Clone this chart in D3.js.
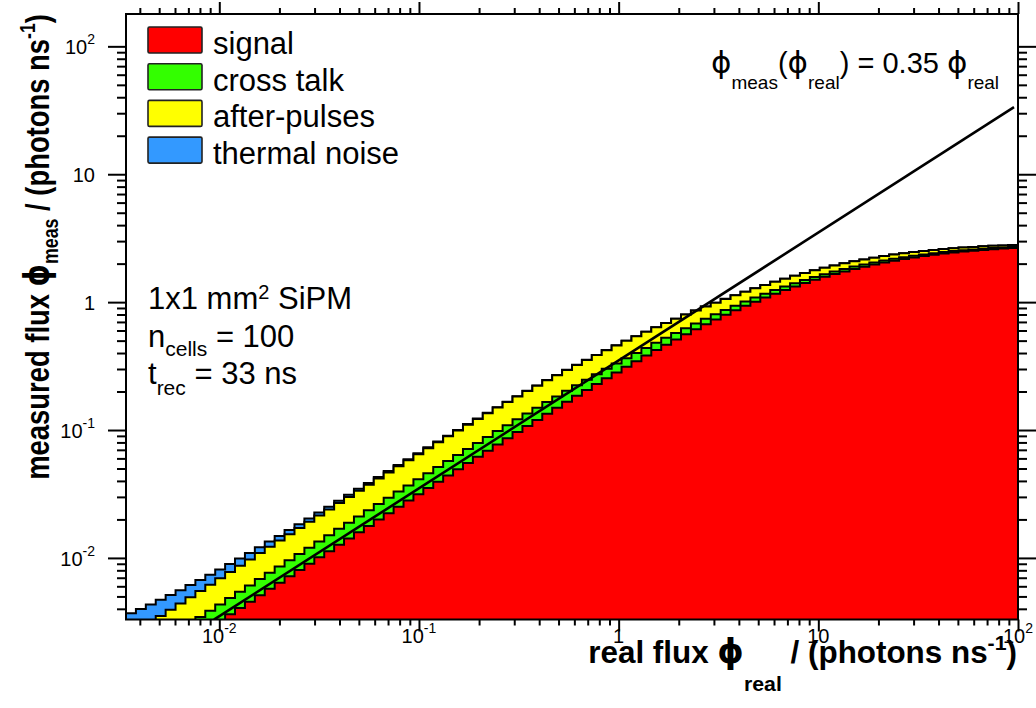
<!DOCTYPE html>
<html><head><meta charset="utf-8">
<script src="https://cdn.jsdelivr.net/npm/d3@7"></script>
<style>
body{margin:0;background:#fff}
svg{display:block}
text{font-family:"Liberation Sans",Arial,Helvetica,sans-serif;fill:#000}
.phi{font-family:"DejaVu Sans","Liberation Sans",sans-serif}
</style>
</head><body>
<svg id="chart" width="1036" height="708"></svg>
<script>
// ---------------- data ----------------
const xDomain = [0.00341, 100];
const yDomain = [0.0033, 179];
const nBins = 90; // log-spaced histogram bins across the x range

const signal = [0.00116,0.00130,0.00145,0.00163,0.00183,0.00205,0.00230,0.00257,0.00288,0.00323,
0.00362,0.00406,0.00455,0.00511,0.00573,0.00640,0.00718,0.00804,0.00901,0.0101,
0.0113,0.0127,0.0142,0.0159,0.0178,0.0200,0.0224,0.0251,0.0281,0.0314,
0.0352,0.0394,0.0441,0.0493,0.0552,0.0617,0.0690,0.0772,0.0862,0.0963,
0.1075,0.1200,0.1339,0.1492,0.1663,0.1851,0.2059,0.2289,0.2542,0.2819,
0.3125,0.3457,0.3820,0.4217,0.4644,0.5108,0.5608,0.6142,0.6715,0.7323,
0.7966,0.8644,0.9353,1.009,1.086,1.165,1.245,1.327,1.410,1.493,
1.576,1.658,1.738,1.818,1.894,1.968,2.040,2.108,2.172,2.233,
2.291,2.345,2.395,2.441,2.484,2.524,2.561,2.594,2.625,2.653];

const crossTalk = [0.000396,0.000443,0.000497,0.000557,0.000624,0.000698,0.000782,0.000876,0.000981,0.00110,
0.00123,0.00138,0.00154,0.00172,0.00193,0.00215,0.00241,0.00269,0.00301,0.00336,
0.00375,0.00418,0.00466,0.00519,0.00578,0.00643,0.00715,0.00794,0.00880,0.00976,
0.0108,0.0119,0.0132,0.0145,0.0160,0.0175,0.0192,0.0210,0.0229,0.0249,
0.0270,0.0292,0.0316,0.0340,0.0364,0.0389,0.0415,0.0441,0.0467,0.0492,
0.0518,0.0542,0.0567,0.0590,0.0612,0.0634,0.0654,0.0673,0.0690,0.0706,
0.0721,0.0734,0.0746,0.0756,0.0765,0.0772,0.0777,0.0782,0.0784,0.0786,
0.0785,0.0784,0.0781,0.0776,0.0770,0.0762,0.0753,0.0743,0.0731,0.0717,
0.0702,0.0686,0.0668,0.0649,0.0628,0.0607,0.0584,0.0561,0.0536,0.0511];

const afterPulses = [0.000936,0.00105,0.00118,0.00132,0.00148,0.00165,0.00185,0.00207,0.00232,0.00260,
0.00291,0.00326,0.00365,0.00408,0.00457,0.00511,0.00572,0.00639,0.00714,0.00798,
0.00891,0.00995,0.0111,0.0124,0.0138,0.0154,0.0171,0.0190,0.0211,0.0235,
0.0260,0.0288,0.0319,0.0352,0.0389,0.0428,0.0470,0.0516,0.0564,0.0616,
0.0671,0.0729,0.0790,0.0854,0.0920,0.0988,0.1058,0.1129,0.1200,0.1272,
0.1343,0.1413,0.1481,0.1548,0.1611,0.1672,0.1729,0.1781,0.1830,0.1873,
0.1911,0.1945,0.1972,0.1994,0.2011,0.2022,0.2026,0.2026,0.2019,0.2006,
0.1988,0.1964,0.1934,0.1899,0.1859,0.1814,0.1765,0.1711,0.1653,0.1591,
0.1527,0.1459,0.1390,0.1320,0.1249,0.1177,0.1106,0.1035,0.0966,0.0899];

const thermalNoise = [0.00120,0.00120,0.00120,0.00120,0.00120,0.00120,0.00120,0.00120,0.00120,0.00120,
0.00120,0.00120,0.00120,0.00120,0.00120,0.00120,0.00120,0.00120,0.00120,0.00120,
0.00120,0.00120,0.00120,0.00119,0.00119,0.00119,0.00119,0.00119,0.00118,0.00118,
0.00118,0.00118,0.00117,0.00117,0.00116,0.00115,0.00114,0.00113,0.00112,0.00111,
0.00110,0.00108,0.00107,0.00105,0.00103,0.00101,0.00099,0.00097,0.00094,0.00092,
0.00090,0.00087,0.00085,0.00082,0.00080,0.00077,0.00075,0.00072,0.00070,0.00067,
0.00065,0.00062,0.00060,0.00058,0.00055,0.00053,0.00051,0.00049,0.00047,0.00045,
0.00043,0.00041,0.00039,0.00038,0.00036,0.00034,0.00033,0.00031,0.00030,0.00028,
0.00027,0.00026,0.00025,0.00024,0.00023,0.00022,0.00021,0.00020,0.00019,0.00018];

const seriesKeys = ["signal","crossTalk","afterPulses","thermalNoise"];
const seriesLabels = ["signal","cross talk","after-pulses","thermal noise"];
const seriesColors = ["#ff0000","#33ff00","#ffff00","#3399ff"];

const fitSlope = 0.35;
const fitRange = [0.0094, 95.5];

const xMajor = [0.01, 0.1, 1, 10, 100];
const xMajorLabels = [["10","-2"],["10","-1"],["1",""],["10",""],["10","2"]];
const yMajor = [0.01, 0.1, 1, 10, 100];
const yMajorLabels = [["10","-2"],["10","-1"],["1",""],["10",""],["10","2"]];

// ---------------- layout ----------------
const W = 1036, H = 708;
const plot = {left:126, right:1018, top:14, bottom:619.5};

const svg = d3.select("#chart");
svg.append("rect").attr("width",W).attr("height",H).attr("fill","#fff");

const x = d3.scaleLog().domain(xDomain).range([plot.left, plot.right]);
const y = d3.scaleLog().domain(yDomain).range([plot.bottom, plot.top]);

svg.append("defs").append("clipPath").attr("id","clip")
  .append("rect").attr("x",plot.left).attr("y",plot.top)
  .attr("width",plot.right-plot.left).attr("height",plot.bottom-plot.top);

// histogram bin edges (equal width in log10)
const lx0 = Math.log10(xDomain[0]), lx1 = Math.log10(xDomain[1]);
const edges = d3.range(nBins+1).map(i => Math.pow(10, lx0 + i*(lx1-lx0)/nBins));

const rows = d3.range(nBins).map(i => ({
  signal: signal[i], crossTalk: crossTalk[i], afterPulses: afterPulses[i], thermalNoise: thermalNoise[i]
}));
const stacked = d3.stack().keys(seriesKeys)(rows);

const gHist = svg.append("g").attr("clip-path","url(#clip)");
const bottomY = plot.bottom + 20;
function stepPath(layer){
  let p = `M${x(edges[0])},${bottomY}`;
  layer.forEach((d,i) => {
    const yy = Math.min(y(d[1]), bottomY);
    p += `L${x(edges[i])},${yy}L${x(edges[i+1])},${yy}`;
  });
  p += `L${x(edges[nBins])},${bottomY}Z`;
  return p;
}
for (let k = seriesKeys.length-1; k >= 0; k--) {
  gHist.append("path").attr("d", stepPath(stacked[k]))
    .attr("fill", seriesColors[k]).attr("stroke","#000")
    .attr("stroke-width",2).attr("stroke-linejoin","miter");
}

// fit line
const line = d3.line().x(d => x(d)).y(d => y(fitSlope*d));
svg.append("path").attr("clip-path","url(#clip)")
  .attr("d", line(fitRange)).attr("fill","none")
  .attr("stroke","#000").attr("stroke-width",2.6);

// ---------------- axes ----------------
function minors(domain){
  const out = [];
  for (let e = Math.floor(Math.log10(domain[0])); e <= Math.ceil(Math.log10(domain[1])); e++) {
    for (let m = 2; m <= 9; m++) {
      const v = m*Math.pow(10,e);
      if (v > domain[0] && v < domain[1]) out.push(v);
    }
  }
  return out;
}
const xMin = minors(xDomain), yMin = minors(yDomain);

function styleAxis(g){
  g.select(".domain").remove();
  g.selectAll("line").attr("stroke","#000").attr("stroke-width",2);
  g.selectAll("text").remove();
}
const axes = [
  [d3.axisBottom(x), `translate(0,${plot.bottom})`, xMajor, xMin, 12, 6],
  [d3.axisTop(x), `translate(0,${plot.top})`, xMajor, xMin, 12, 6],
  [d3.axisLeft(y), `translate(${plot.left},0)`, yMajor, yMin, 18, 9],
  [d3.axisRight(y), `translate(${plot.right},0)`, yMajor, yMin, 18, 9]
];
axes.forEach(([ax, tr, maj, mnr, lM, lm]) => {
  svg.append("g").attr("transform",tr)
    .call(ax.tickValues(maj).tickSize(lM).tickSizeOuter(0).tickFormat(""))
    .call(styleAxis);
  svg.append("g").attr("transform",tr)
    .call(ax.tickValues(mnr).tickSize(lm).tickSizeOuter(0).tickFormat(""))
    .call(styleAxis);
});

// frame
svg.append("rect").attr("x",plot.left).attr("y",plot.top)
  .attr("width",plot.right-plot.left).attr("height",plot.bottom-plot.top)
  .attr("fill","none").attr("stroke","#000").attr("stroke-width",2);

// tick labels
function powLabel(g, px, py, base, exp, anchor, size){
  const t = g.append("text").attr("x",px).attr("y",py)
    .attr("text-anchor",anchor).attr("font-size",size);
  t.append("tspan").text(base);
  if (exp) t.append("tspan").attr("font-size",size*0.7).attr("dy",-10).text(exp);
  return t;
}
const gLab = svg.append("g");
xMajor.forEach((v,i) => powLabel(gLab, x(v), 643, xMajorLabels[i][0], xMajorLabels[i][1], "middle", 20));
yMajor.forEach((v,i) => powLabel(gLab, 95, y(v)+8, yMajorLabels[i][0], yMajorLabels[i][1], "end", 20));

// axis titles
function fitScale(sel, target){
  return target / sel.node().getBBox().width;
}
const xt = svg.append("text").attr("font-weight","bold").attr("font-size",31).attr("text-anchor","end");
xt.append("tspan").text("real flux ");
xt.append("tspan").attr("class","phi").attr("font-size",33).text("ϕ");
xt.append("tspan").attr("font-size",21).attr("dy",28).text("real");
xt.append("tspan").attr("dy",-28).text(" / (photons ns");
xt.append("tspan").attr("font-size",21).attr("dy",-13).text("-1");
xt.append("tspan").attr("dy",13).text(")");
const sx = fitScale(xt, 1017-588);
xt.attr("transform",`translate(1017,663) scale(${sx},1)`);

const yt = svg.append("text").attr("font-weight","bold").attr("font-size",34).attr("text-anchor","end");
yt.append("tspan").text("measured flux ");
yt.append("tspan").attr("class","phi").attr("font-size",35).text("ϕ");
yt.append("tspan").attr("font-size",22).attr("dy",9).text("meas");
yt.append("tspan").attr("dy",-9).text(" / (photons ns");
yt.append("tspan").attr("font-size",22).attr("dy",-14).text("-1");
yt.append("tspan").attr("dy",14).text(")");
const sy = fitScale(yt, 480-14);
yt.attr("transform",`translate(49,14) rotate(-90) scale(${sy},1)`);

// legend
const gLeg = svg.append("g");
seriesLabels.forEach((lab,i) => {
  gLeg.append("rect").attr("x",148).attr("y",27+i*36.7).attr("width",54).attr("height",26)
    .attr("rx",1.5).attr("fill",seriesColors[i]).attr("stroke","#222").attr("stroke-width",1.6);
  gLeg.append("text").attr("x",213).attr("y",54+i*36.7).attr("font-size",31).text(lab);
});

// annotations
const a1 = svg.append("text").attr("x",148).attr("y",309).attr("font-size",31);
a1.append("tspan").text("1x1 mm");
a1.append("tspan").attr("font-size",20).attr("dy",-10).text("2");
a1.append("tspan").attr("dy",10).text(" SiPM");
const a2 = svg.append("text").attr("x",148).attr("y",346.5).attr("font-size",31);
a2.append("tspan").text("n");
a2.append("tspan").attr("font-size",21).attr("dy",9).text("cells");
a2.append("tspan").attr("dy",-9).text(" = 100");
const a3 = svg.append("text").attr("x",148).attr("y",384).attr("font-size",31);
a3.append("tspan").text("t");
a3.append("tspan").attr("font-size",21).attr("dy",11).text("rec");
a3.append("tspan").attr("dy",-11).text(" = 33 ns");

const f = svg.append("text").attr("x",711).attr("y",73).attr("font-size",29);
f.append("tspan").attr("class","phi").attr("font-size",31).text("ϕ");
f.append("tspan").attr("font-size",19).attr("dy",16).text("meas");
f.append("tspan").attr("dy",-16).text("(");
f.append("tspan").attr("class","phi").attr("font-size",31).text("ϕ");
f.append("tspan").attr("font-size",19).attr("dy",16).text("real");
f.append("tspan").attr("dy",-16).text(") = 0.35 ");
f.append("tspan").attr("class","phi").attr("font-size",31).text("ϕ");
f.append("tspan").attr("font-size",19).attr("dy",16).text("real");
</script>
</body></html>
